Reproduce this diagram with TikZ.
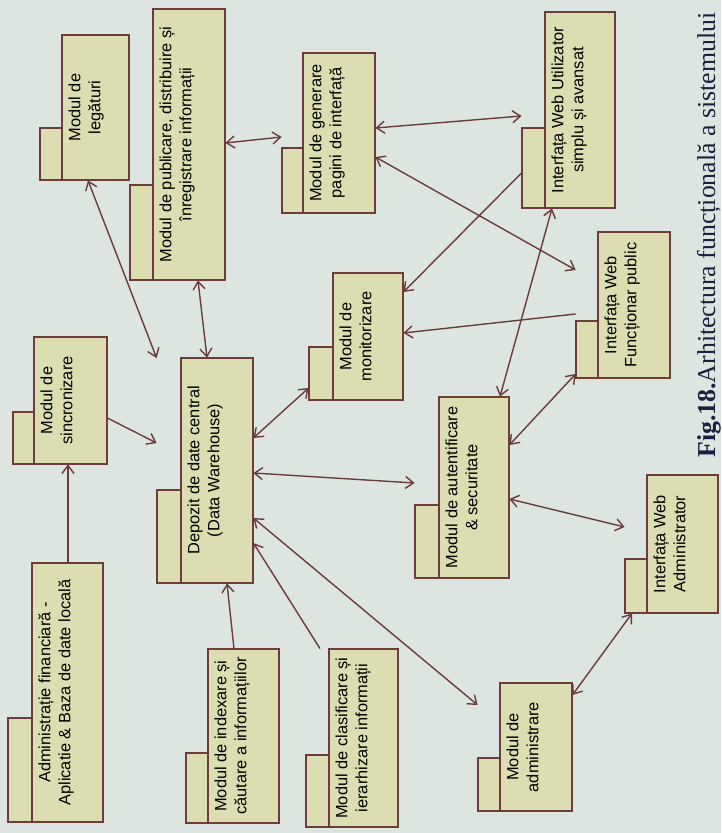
\documentclass[tikz,border=0pt]{standalone}
\usepackage{fontspec}
\setmainfont{Liberation Sans}
\newfontfamily\capfont{Liberation Serif}
\usetikzlibrary{arrows.meta,fit}

\definecolor{paper}{HTML}{DDE5E1}
\definecolor{pkgfill}{HTML}{DCDEB2}
\definecolor{pkgedge}{HTML}{6E3C3C}
\definecolor{wire}{HTML}{6A3B3B}
\definecolor{capink}{HTML}{1C2040}

\tikzset{
  pkgbox/.style={fill=pkgfill, draw=pkgedge, line width=0.75pt},
  pkgtext/.style={rotate=90, anchor=north, align=center, inner sep=0pt,
                  font=\fontsize{8.2}{10}\selectfont},
  conn/.style={draw=wire, line width=0.7pt},
  one/.style={conn, -{Straight Barb[length=4pt,width=6pt]}},
  both/.style={conn, {Straight Barb[length=4pt,width=6pt]}-{Straight Barb[length=4pt,width=6pt]}},
}

% UML package: #1 name, #2 tab left, #3 tab top, #4 body left, #5 body top,
% #6 body right, #7 bottom, #8 label
\newcommand\umlpkg[8]{%
  \path[pkgbox] (#2,#3) rectangle (#4,#7);
  \path[pkgbox] (#4,#5) rectangle (#6,#7);
  \node[fit={(#2,#5) (#6,#7)}, inner sep=0pt] (#1) {};
  \node[pkgtext] (#1-label) at ({#4+6},{(#5+#7)/2}) {#8};
}

\begin{document}
\begin{tikzpicture}[x=0.5pt, y=-0.5pt]
\fill[paper] (0,0) rectangle (721,833);
\useasboundingbox (0,0) rectangle (721,833);

% packages
\umlpkg{adm}{8}{718}{32}{563}{103}{822}{Administrație financiară -\\Aplicatie \& Baza de date locală}
\umlpkg{sin}{13}{412}{34}{337}{107}{464}{Modul de\\sincronizare}
\umlpkg{leg}{40}{128}{62}{35}{129}{180}{Modul de\\legături}
\umlpkg{pub}{130}{185}{153}{9}{225}{280}{Modul de publicare, distribuire și\\înregistrare informații}
\umlpkg{dep}{157}{490}{181}{358}{253}{583}{Depozit de date central\\(Data Warehouse)}
\umlpkg{mon}{309}{347}{333}{273}{403}{400}{Modul de\\monitorizare}
\umlpkg{gen}{282}{148}{303}{53}{375}{213}{Modul de generare\\pagini de interfață}
\umlpkg{wu}{522}{128}{545}{12}{615}{208}{Interfața Web Utilizator\\simplu și avansat}
\umlpkg{wf}{576}{321}{598}{232}{670}{378}{Interfața Web\\Funcționar public}
\umlpkg{aut}{415}{505}{439}{397}{509}{578}{Modul de autentificare\\\& securitate}
\umlpkg{wa}{625}{559}{647}{475}{718}{613}{Interfața Web\\Administrator}
\umlpkg{admn}{478}{758}{500}{683}{572}{811}{Modul de\\administrare}
\umlpkg{idx}{186}{753}{208}{649}{279}{823}{Modul de indexare și\\căutare a informațiilor}
\umlpkg{cls}{306}{755}{329}{649}{398}{827}{Modul de clasificare și\\ierarhizare informații}

% connectors
\draw[one]  (adm.north -| 68,0) -- (sin.south -| 68,0);
\draw[one]  (sin.east |- 0,418) -- (dep.west |- 0,443);
\draw[both] (leg.south -| 88,0) -- (dep.west |- 0,358);
\draw[both] (pub.south -| 198,0) -- (dep.north -| 207,0);
\draw[both] (pub.east |- 0,143) -- (gen.west |- 0,137);
\draw[both] (gen.east |- 0,128) -- (wu.west |- 0,116);
\draw[both] (gen.east |- 0,157) -- (wf.west |- 0,270);
\draw[one]  (wu.west |- 0,173) -- (mon.east |- 0,292);
\draw[one]  (wf.west |- 0,314) -- (mon.east |- 0,333);
\draw[both] (dep.east |- 0,438) -- (mon.west |- 0,388);
\draw[both] (dep.east |- 0,473) -- (aut.west |- 0,483);
\draw[both] (wu.south -| 552,0) -- (aut.north -| 500,0);
\draw[both] (aut.east |- 0,445) -- (wf.west |- 0,374);
\draw[both] (aut.east |- 0,499) -- (wa.west |- 0,527);
\draw[both] (dep.east |- 0,518) -- (admn.west |- 0,705);
\draw[one]  (cls.north -| 320,0) -- (dep.east |- 0,543);
\draw[one]  (idx.north -| 234,0) -- (dep.south -| 227,0);
\draw[both] (admn.east |- 0,695) -- (wa.south -| 632,0);

% caption
\node[rotate=90, anchor=base west, inner sep=0pt, text=capink,
      font=\capfont\fontsize{12.9}{15}\selectfont] (cap) at (715,458)
  {\textbf{Fig.18.}Arhitectura funcțională a sistemului};
\end{tikzpicture}
\end{document}
